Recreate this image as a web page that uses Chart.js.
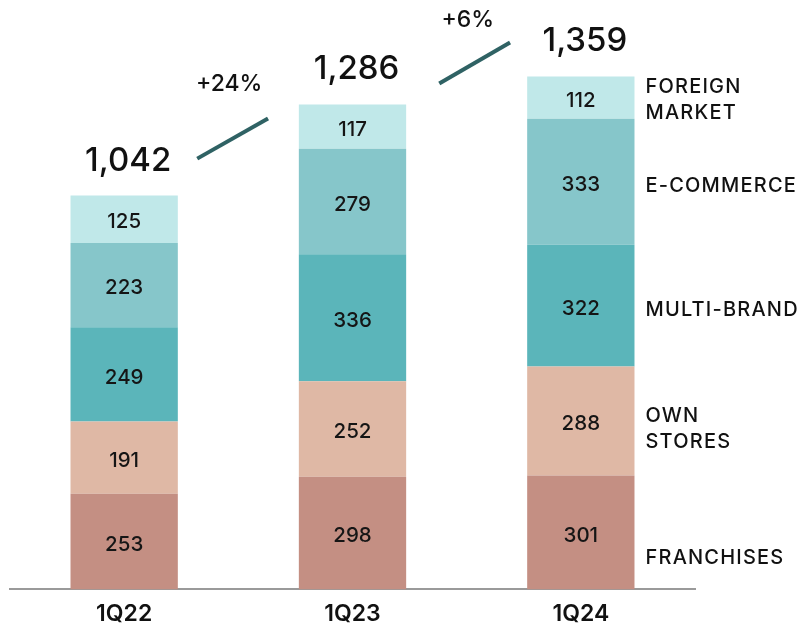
<!DOCTYPE html>
<html><head><meta charset="utf-8">
<script src="https://cdn.jsdelivr.net/npm/chart.js@4/dist/chart.umd.min.js"></script>
<style>html,body{margin:0;padding:0;background:#fff}#wrap{width:809px;height:639px}</style>
</head><body><div id="wrap"><canvas id="c" width="809" height="639"></canvas></div>
<script>
const categories = ["1Q22", "1Q23", "1Q24"];
const franchises = [253, 298, 301];
const ownStores = [191, 252, 288];
const multiBrand = [249, 336, 322];
const eCommerce = [223, 279, 333];
const foreignMarket = [125, 117, 112];
const totals = ["1,042", "1,286", "1,359"];
const growthLabels = ["+24%", "+6%"];
const seriesNames = [["FRANCHISES"], ["OWN", "STORES"], ["MULTI-BRAND"], ["E-COMMERCE"], ["FOREIGN", "MARKET"]];

const FONT = "Inter, 'Noto Sans', sans-serif";
const colors = ["#C48F83", "#DFB8A5", "#5BB5BA", "#86C6CA", "#C0E8E9"];
const series = [franchises, ownStores, multiBrand, eCommerce, foreignMarket];

const overlay = {
  id: "overlay",
  afterDatasetsDraw(chart) {
    const ctx = chart.ctx;
    const x = chart.scales.x, y = chart.scales.y;
    ctx.save();
    ctx.textAlign = "center"; ctx.textBaseline = "middle";
    chart.data.datasets.forEach((ds, di) => {
      const meta = chart.getDatasetMeta(di);
      meta.data.forEach((bar, i) => {
        ctx.fillStyle = "#151515";
        ctx.font = "500 20.5px " + FONT;
        ctx.fillText(String(ds.data[i]), bar.x, (bar.y + bar.base) / 2 + 3);
      });
    });
    const tops = categories.map((c, i) => {
      let s = 0; series.forEach(a => s += a[i]); return y.getPixelForValue(s);
    });
    ctx.font = "500 33px " + FONT;
    ctx.fillStyle = "#111";
    categories.forEach((c, i) => {
      ctx.fillText(totals[i], x.getPixelForValue(i) + 4, tops[i] - 35);
    });
    const sp = x.getPixelForValue(1) - x.getPixelForValue(0);
    const lineDefs = [
      {x0: 0.32, dy0: -37, x1: 0.63, dy1: 14, tx: 0.46, ty: -112},
      {x0: 0.38, dy0: -21, x1: 0.69, dy1: -34, tx: 0.505, ty: -84}
    ];
    growthLabels.forEach((g, i) => {
      const d = lineDefs[i];
      const c0 = x.getPixelForValue(i);
      ctx.strokeStyle = "#2F6264"; ctx.lineWidth = 4; ctx.lineCap = "butt";
      ctx.beginPath();
      ctx.moveTo(c0 + d.x0 * sp, tops[i] + d.dy0);
      ctx.lineTo(c0 + d.x1 * sp, tops[i + 1] + d.dy1);
      ctx.stroke();
      ctx.font = "500 23px " + FONT; ctx.fillStyle = "#111";
      ctx.fillText(g, c0 + d.tx * sp, tops[i] + d.ty);
    });
    const last = categories.length - 1;
    ctx.textAlign = "left";
    ctx.font = "500 20px " + FONT;
    ctx.fillStyle = "#111";
    const shift = [26, 8, 4, 4, 2];
    chart.data.datasets.forEach((ds, di) => {
      const bar = chart.getDatasetMeta(di).data[last];
      const mid = (bar.y + bar.base) / 2 + shift[di];
      const lines = seriesNames[di];
      lines.forEach((ln, li) => {
        const yy = mid + (li - (lines.length - 1) / 2) * 26;
        ctx.letterSpacing = "1.2px";
        ctx.fillText(ln, bar.x + bar.width / 2 + 11, yy);
      });
    });
    ctx.restore();
  }
};

new Chart(document.getElementById("c"), {
  type: "bar",
  data: {
    labels: categories,
    datasets: series.map((d, i) => ({
      label: seriesNames[i].join(" "), data: d, backgroundColor: colors[i],
      borderWidth: 0, categoryPercentage: 1, barPercentage: 0.47
    }))
  },
  options: {
    responsive: false, animation: false,
    layout: {padding: {left: 10, right: 114, top: 22, bottom: 0}},
    plugins: {legend: {display: false}, tooltip: {enabled: false}},
    scales: {
      x: {stacked: true, grid: {display: false, drawTicks: false},
          border: {display: true, color: "#9A9A9A", width: 2},
          ticks: {padding: 11, color: "#111", font: {family: FONT, size: 23, weight: "600"}}},
      y: {stacked: true, display: false, min: 0, max: 1500}
    }
  },
  plugins: [overlay]
});
</script></body></html>
